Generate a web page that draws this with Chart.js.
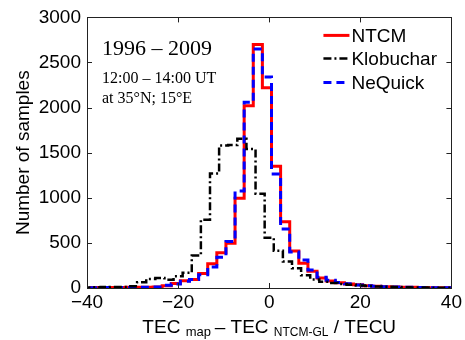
<!DOCTYPE html>
<html><head><meta charset="utf-8">
<script src="https://cdn.jsdelivr.net/npm/chart.js@4"></script>
<style>html,body{margin:0;padding:0;background:#fff}#wrap{width:465px;height:340px;position:relative}canvas{display:block}</style>
</head><body><div id="wrap"><canvas id="c" width="465" height="340"></canvas></div>
<script>
// ---- data ----
const binWidth = 2;
const modelBinCenters = [-38.5,-36.5,-34.5,-32.5,-30.5,-28.5,-26.5,-24.5,-22.5,-20.5,-18.5,-16.5,-14.5,-12.5,-10.5,-8.5,-6.5,-4.5,-2.5,-0.5,1.5,3.5,5.5,7.5,9.5,11.5,13.5,15.5,17.5,19.5,21.5,23.5,25.5,27.5,29.5,31.5,33.5,35.5,37.5,39.5];
const ntcmCounts    = [5,5,5,6,7,8,8,10,25,50,80,95,160,270,390,495,995,2020,2700,2220,1350,735,410,275,185,110,78,58,45,35,26,20,15,11,9,7,5,4,3,2];
const nequickCounts = [4,4,5,6,6,8,9,12,30,45,75,95,148,232,340,515,1075,2060,2650,2340,1265,655,400,310,200,120,85,60,46,33,26,20,15,11,9,7,5,4,3,2];
const klobBinCenters = [-40,-38,-36,-34,-32,-30,-28,-26,-24,-22,-20,-18,-16,-14,-12,-10,-8,-6,-4,-2,0,2,4,6,8,10,12,14,16,18,20,22,24,26,28,30,32,34,36,38,40];
const klobucharCounts = [5,8,10,12,12,20,65,100,110,92,130,168,359,758,1270,1580,1585,1655,1540,1045,558,413,295,220,141,95,68,55,45,35,28,22,18,14,10,8,6,5,4,3,2];
const seriesNames = ['NTCM','Klobuchar','NeQuick'];
const xTickValues = [-40,-20,0,20,40];
const yTickValues = [0,500,1000,1500,2000,2500,3000];

function stairs(centers, counts){
  const pts = centers.map((c,i)=>({x:c-binWidth/2, y:counts[i]}));
  pts.push({x:centers[centers.length-1]+binWidth/2, y:counts[counts.length-1]});
  return pts;
}

const SANS = "'Liberation Sans', Arial, sans-serif";
const SERIF = "'Liberation Serif', 'Times New Roman', serif";

const decor = {
  id:'decor',
  afterDatasetsDraw(chart){
    const ctx = chart.ctx, a = chart.chartArea;
    const xs = chart.scales.x, ys = chart.scales.y;
    ctx.save();
    ctx.strokeStyle = '#222'; ctx.lineWidth = 1; ctx.setLineDash([]);
    ctx.strokeRect(Math.round(a.left)+0.5, Math.round(a.top)+0.5, Math.round(a.right-a.left), Math.round(a.bottom-a.top));
    const tl = 5;
    ctx.beginPath();
    xs.ticks.forEach(t=>{const px=Math.round(xs.getPixelForValue(t.value))+0.5;
      ctx.moveTo(px,a.bottom); ctx.lineTo(px,a.bottom-tl); ctx.moveTo(px,a.top); ctx.lineTo(px,a.top+tl);});
    ys.ticks.forEach(t=>{const py=Math.round(ys.getPixelForValue(t.value))+0.5;
      ctx.moveTo(a.left,py); ctx.lineTo(a.left+tl,py); ctx.moveTo(a.right,py); ctx.lineTo(a.right-tl,py);});
    ctx.stroke();

    // annotations
    ctx.fillStyle = '#000'; ctx.textAlign='left'; ctx.textBaseline='alphabetic';
    ctx.font = '22px '+SERIF; ctx.fillText('1996 \u2013 2009', a.left+15, a.top+38);
    ctx.font = '16px '+SERIF; ctx.fillText('12:00 \u2013 14:00 UT', a.left+15, a.top+66);
    ctx.fillText('at 35\u00B0N; 15\u00B0E', a.left+15, a.top+86);

    // legend
    const rows = [a.top+18, a.top+41, a.top+65];
    chart.data.datasets.forEach((ds,i)=>{
      const y = rows[i];
      ctx.strokeStyle = ds.borderColor; ctx.lineWidth = ds.borderWidth;
      ctx.setLineDash(ds.borderDash||[]);
      ctx.beginPath(); ctx.moveTo(a.right-128,y); ctx.lineTo(a.right-102,y); ctx.stroke();
      ctx.setLineDash([]);
      ctx.font = '19px '+SANS; ctx.textBaseline='middle'; ctx.fillStyle='#000';
      ctx.fillText(ds.label, a.right-100, y+1);
    });

    // x-axis title with subscripts
    const parts = [['TEC ',19,0],['map',13,3],['\u2009\u2013 TEC ',19,0],['NTCM-GL',12,3],[' / TECU',19,0]];
    let total=0; parts.forEach(p=>{ctx.font=p[1]+'px '+SANS; total+=ctx.measureText(p[0]).width;});
    let x = (a.left+a.right)/2 - total/2; const base = 333;
    ctx.textBaseline='alphabetic';
    parts.forEach(p=>{ctx.font=p[1]+'px '+SANS; ctx.fillText(p[0], x, base+p[2]); x+=ctx.measureText(p[0]).width;});

    // y-axis title
    ctx.save(); ctx.translate(29, (a.top+a.bottom)/2); ctx.rotate(-Math.PI/2);
    ctx.font='19px '+SANS; ctx.textAlign='center'; ctx.textBaseline='alphabetic';
    ctx.fillText('Number of samples', 0, 0); ctx.restore();
    ctx.restore();
  }
};

new Chart(document.getElementById('c'), {
  type:'line',
  data:{datasets:[
    {label:seriesNames[0], data:stairs(modelBinCenters,ntcmCounts), borderColor:'#ff0000', borderWidth:3, stepped:true, pointRadius:0, fill:false, order:2},
    {label:seriesNames[1], data:stairs(klobBinCenters,klobucharCounts), borderColor:'#000000', borderWidth:2.5, borderDash:[8,3,2,3], stepped:true, pointRadius:0, fill:false, order:0},
    {label:seriesNames[2], data:stairs(modelBinCenters,nequickCounts), borderColor:'#0000ff', borderWidth:3, borderDash:[8,5], stepped:true, pointRadius:0, fill:false, order:1}
  ]},
  options:{
    responsive:false, animation:false, devicePixelRatio:1,
    layout:{padding:{top:12,right:9,left:0,bottom:0}},
    plugins:{legend:{display:false}, tooltip:{enabled:false}, title:{display:false}},
    scales:{
      x:{type:'linear', min:-40, max:40,
        afterBuildTicks:s=>{s.ticks = xTickValues.map(v=>({value:v}));},
        afterFit:s=>{s.height=52;},
        grid:{display:false, drawTicks:false}, border:{display:false},
        ticks:{color:'#000', font:{family:SANS,size:19}, padding:3, maxRotation:0, autoSkip:false,
          callback:v=> v<0 ? '\u2212'+Math.abs(v) : String(v)}},
      y:{type:'linear', min:0, max:3000,
        afterBuildTicks:s=>{s.ticks = yTickValues.map(v=>({value:v}));},
        afterFit:s=>{s.width=87;},
        grid:{display:false, drawTicks:false}, border:{display:false},
        ticks:{color:'#000', font:{family:SANS,size:19}, padding:6, autoSkip:false,
          callback:v=> String(v)}}
    }
  },
  plugins:[decor]
});
</script></body></html>
